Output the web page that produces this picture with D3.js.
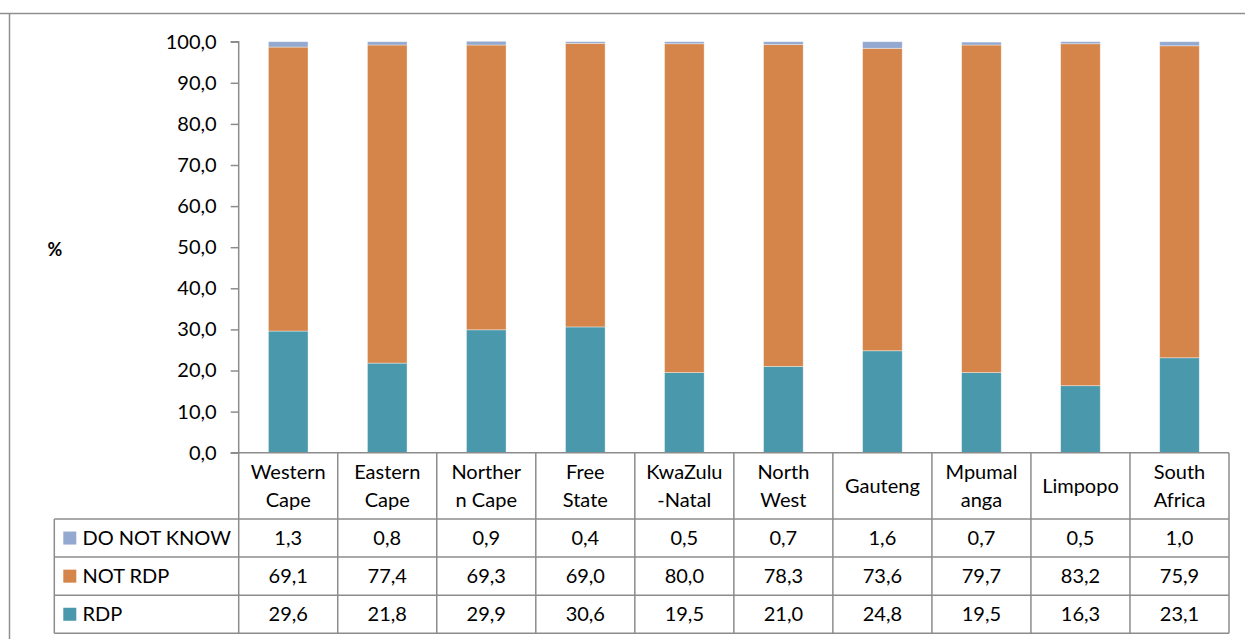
<!DOCTYPE html>
<html>
<head>
<meta charset="utf-8">
<script src="https://cdnjs.cloudflare.com/ajax/libs/d3/7.8.5/d3.min.js"></script>
<style>
  html, body { margin: 0; padding: 0; background: #fff; }
  svg { display: block; font-family: Lato, "Open Sans", sans-serif; }
</style>
</head>
<body>
<div id="chart"></div>
<script>
/* chart data */
const categories = [
  ["Western", "Cape"], ["Eastern", "Cape"], ["Norther", "n Cape"], ["Free", "State"],
  ["KwaZulu", "-Natal"], ["North", "West"], ["Gauteng"], ["Mpumal", "anga"],
  ["Limpopo"], ["South", "Africa"]
];
const seriesNames = ["RDP", "NOT RDP", "DO NOT KNOW"];
const rdp = [29.6, 21.8, 29.9, 30.6, 19.5, 21.0, 24.8, 19.5, 16.3, 23.1];
const notRdp = [69.1, 77.4, 69.3, 69.0, 80.0, 78.3, 73.6, 79.7, 83.2, 75.9];
const doNotKnow = [1.3, 0.8, 0.9, 0.4, 0.5, 0.7, 1.6, 0.7, 0.5, 1.0];
const yTicks = [0, 10, 20, 30, 40, 50, 60, 70, 80, 90, 100];

const colors = {"RDP": "#4a98ac", "NOT RDP": "#d5854a", "DO NOT KNOW": "#93a9cf"};
const gridColor = "#8c8c8c";

const W = 1245, H = 639;
const plot = {left: 238.7, right: 1229, top: 41.7, bottom: 452.7};
const table = {left: 54.3, headerBottom: 519, rowH: 38.1};

const locale = d3.formatLocale({decimal: ",", thousands: ".", grouping: [3], currency: ["", ""]});
const fmt = locale.format(".1f");

const rows = categories.map((c, i) => ({
  key: i,
  "RDP": rdp[i],
  "NOT RDP": notRdp[i],
  "DO NOT KNOW": doNotKnow[i]
}));

const x = d3.scaleBand()
  .domain(d3.range(categories.length))
  .range([plot.left, plot.right])
  .paddingInner(0.6)
  .paddingOuter(0.3);

const xCol = d3.scaleBand()
  .domain(d3.range(categories.length))
  .range([plot.left, plot.right]);

const y = d3.scaleLinear()
  .domain([0, 100])
  .range([plot.bottom, plot.top]);

const svg = d3.select("#chart").append("svg")
  .attr("width", W)
  .attr("height", H);

/* outer chart border */
svg.append("path")
  .attr("d", `M0,13.5H${W}M9.5,13.5V${H}`)
  .attr("fill", "none")
  .attr("stroke", "#8f8f8f")
  .attr("stroke-width", 1.5);

/* stacked bars */
const stack = d3.stack().keys(seriesNames);
const layers = stack(rows);

svg.append("g").selectAll("g")
  .data(layers)
  .join("g")
    .attr("fill", d => colors[d.key])
  .selectAll("rect")
  .data(d => d)
  .join("rect")
    .attr("x", (d, i) => x(i))
    .attr("width", x.bandwidth())
    .attr("y", d => y(d[1]))
    .attr("height", d => y(d[0]) - y(d[1]))
    .attr("stroke", "#ffffff")
    .attr("stroke-opacity", 0.5)
    .attr("stroke-width", 0.75);

/* y axis */
const yAxis = d3.axisLeft(y)
  .tickValues(yTicks)
  .tickFormat(fmt)
  .tickSize(8)
  .tickPadding(14);

const gy = svg.append("g")
  .attr("transform", `translate(${plot.left},0)`)
  .call(yAxis);
gy.select(".domain").attr("stroke", gridColor).attr("stroke-width", 1.5)
  .attr("d", `M-8,${plot.top}H0V${plot.bottom}H-8`);
gy.selectAll(".tick line").attr("stroke", gridColor).attr("stroke-width", 1.5);
gy.selectAll(".tick text")
  .attr("fill", "#000")
  .style("font-size", "20px")
  .style("font-family", "Lato, 'Open Sans', sans-serif");

svg.append("text")
  .attr("x", 55)
  .attr("y", 256)
  .attr("text-anchor", "middle")
  .style("font-size", "18px")
  .style("font-weight", "bold")
  .text("%");

/* data table */
const tbl = svg.append("g")
  .attr("stroke", gridColor)
  .attr("stroke-width", 1.5)
  .attr("fill", "none");

const tableBottom = table.headerBottom + table.rowH * seriesNames.length;

/* header row top (x axis) and row lines */
tbl.append("line")
  .attr("x1", plot.left).attr("x2", plot.right)
  .attr("y1", plot.bottom).attr("y2", plot.bottom);
d3.range(seriesNames.length + 1).forEach(r => {
  const yy = table.headerBottom + r * table.rowH;
  tbl.append("line")
    .attr("x1", table.left).attr("x2", plot.right)
    .attr("y1", yy).attr("y2", yy);
});
/* column lines */
d3.range(categories.length + 1).forEach(c => {
  const xx = plot.left + c * xCol.bandwidth();
  tbl.append("line")
    .attr("x1", xx).attr("x2", xx)
    .attr("y1", plot.bottom).attr("y2", tableBottom);
});
tbl.append("line")
  .attr("x1", table.left).attr("x2", table.left)
  .attr("y1", table.headerBottom).attr("y2", tableBottom);

/* category labels */
const headerMid = (plot.bottom + table.headerBottom) / 2;
svg.append("g").selectAll("text")
  .data(categories)
  .join("text")
    .attr("x", (d, i) => xCol(i) + xCol.bandwidth() / 2)
    .attr("text-anchor", "middle")
    .style("font-size", "20px")
    .each(function (d) {
      const t = d3.select(this);
      d.forEach((line, j) => {
        t.append("tspan")
          .attr("x", t.attr("x"))
          .attr("y", headerMid + (j - (d.length - 1) / 2) * 28.5)
          .attr("dy", "0.35em")
          .text(line);
      });
    });

/* legend rows with values, top row = DO NOT KNOW */
const tableSeries = ["DO NOT KNOW", "NOT RDP", "RDP"];
const seriesValues = {"RDP": rdp, "NOT RDP": notRdp, "DO NOT KNOW": doNotKnow};

tableSeries.forEach((s, r) => {
  const cy = table.headerBottom + (r + 0.5) * table.rowH;
  svg.append("rect")
    .attr("x", 63.3)
    .attr("y", cy - 6.5)
    .attr("width", 13)
    .attr("height", 13)
    .attr("fill", colors[s]);
  svg.append("text")
    .attr("x", 82.5)
    .attr("y", cy)
    .attr("dy", "0.35em")
    .style("font-size", "20px")
    .text(s);
  svg.append("g").selectAll("text")
    .data(seriesValues[s])
    .join("text")
      .attr("x", (d, i) => xCol(i) + xCol.bandwidth() / 2)
      .attr("y", cy)
      .attr("dy", "0.35em")
      .attr("text-anchor", "middle")
      .style("font-size", "20px")
      .text(d => fmt(d));
});
</script>
</body>
</html>
